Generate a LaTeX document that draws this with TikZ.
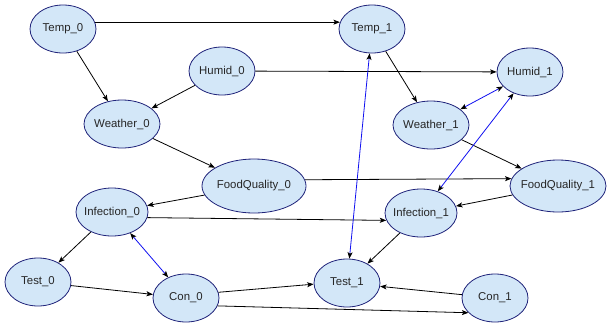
\documentclass[tikz,border=0pt]{standalone}
\usepackage{fontspec}
\setmainfont{Liberation Sans}
\usepackage{xcolor}
\usetikzlibrary{arrows.meta,shapes.geometric}

\definecolor{nodefill}{HTML}{D3E7F8}
\definecolor{nodeline}{HTML}{1F237A}
\definecolor{linkblue}{HTML}{1010F0}

\begin{document}
\begin{tikzpicture}[
  x=1pt, y=-1pt,
  font=\fontsize{11.4}{13}\selectfont,
  var/.style ={ellipse, draw=nodeline, fill=nodefill, line width=0.8pt,
               inner xsep=-4pt, inner ysep=0pt, text=black!85,
               minimum width=66pt, minimum height=48pt},
  wide/.style={var, minimum width=76pt},
  big/.style ={var, minimum width=104pt, minimum height=54pt},
  arr/.style ={-{Stealth[length=6.5pt, width=5pt, inset=1.5pt]}, line width=0.8pt},
  link/.style={{Stealth[length=6.5pt, width=5pt, inset=1.5pt, black]}-{Stealth[length=6.5pt, width=5pt, inset=1.5pt, black]},
               draw=linkblue, line width=0.8pt}
]
\useasboundingbox (0,0) rectangle (607,322);

% slice 0
\node[var]  (temp0)    at (63,29)   {Temp\_0};
\node[var]  (humid0)   at (222,71)  {Humid\_0};
\node[wide] (weather0) at (122,124) {Weather\_0};
\node[big]  (food0)    at (254,186) {FoodQuality\_0};
\node[var, minimum width=72pt] (infect0) at (112,212) {Infection\_0};
\node[var]  (test0)    at (38,282)  {Test\_0};
\node[var]  (con0)     at (186,298) {Con\_0};

% slice 1
\node[var]  (temp1)    at (372,29)  {Temp\_1};
\node[var]  (humid1)   at (530,72)  {Humid\_1};
\node[wide] (weather1) at (431,125) {Weather\_1};
\node[big, minimum width=96pt, minimum height=52pt] (food1) at (558,186) {FoodQuality\_1};
\node[var, minimum width=72pt] (infect1) at (421,213) {Infection\_1};
\node[var]  (test1)    at (347,283) {Test\_1};
\node[var]  (con1)     at (495,298) {Con\_1};

% within a slice
\draw[arr] (temp0)    -- (weather0);
\draw[arr] (humid0)   -- (weather0);
\draw[arr] (weather0) -- (food0);
\draw[arr] (food0)    -- (infect0);
\draw[arr] (infect0)  -- (test0);
\draw[arr] (test0)    -- (con0);
\draw[arr] (temp1)    -- (weather1);
\draw[arr] (weather1) -- (food1);
\draw[arr] (food1)    -- (infect1);
\draw[arr] (infect1)  -- (test1);
\draw[arr] (con1)     -- (test1);

% across slices
\draw[arr] (temp0.12)   -- (temp1.168);
\draw[arr] (humid0)     -- (humid1);
\draw[arr] (food0.7)    -- (food1.171);
\draw[arr] (infect0.-9) -- (infect1.192);
\draw[arr] (con0.10)    -- (test1.182);
\draw[arr] (con0.-14)   -- (con1.209);

% undirected links
\draw[link] (humid1) -- (weather1);
\draw[link] (temp1)  -- (test1);
\draw[link] (humid1) -- (infect1);
\draw[link] (infect0) -- (con0);
\end{tikzpicture}
\end{document}
